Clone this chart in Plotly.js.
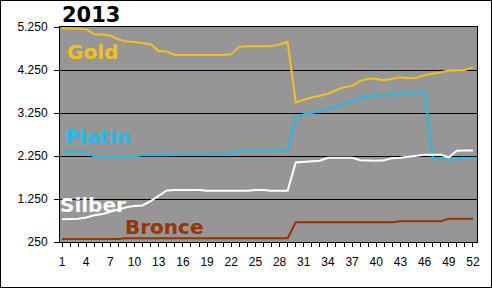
<!DOCTYPE html>
<html>
<head>
<meta charset="utf-8">
<script src="https://cdn.plot.ly/plotly-3.0.1.min.js"></script>
<style>
html,body{margin:0;padding:0;background:#fff;}
#wrap{width:492px;height:288px;box-sizing:border-box;border:1px solid #000;overflow:hidden;}
#chart{width:490px;height:286px;}
</style>
</head>
<body>
<div id="wrap"><div id="chart"></div></div>
<script>
var weeks = [1,2,3,4,5,6,7,8,9,10,11,12,13,14,15,16,17,18,19,20,21,22,23,24,25,26,
             27,28,29,30,31,32,33,34,35,36,37,38,39,40,41,42,43,44,45,46,47,48,49,50,51,52];

var gold = [5220,5220,5210,5200,5080,5070,5050,4960,4910,4900,4870,4850,4690,4680,4600,4600,
            4600,4600,4600,4600,4600,4620,4790,4800,4800,4800,4800,4850,4900,3500,3560,3610,
            3650,3700,3780,3850,3880,3990,4050,4040,4010,4040,4080,4060,4070,4130,4160,4200,
            4240,4250,4250,4310];

var platin = [2350,2350,2350,2350,2240,2240,2240,2240,2240,2240,2270,2270,2270,2270,2300,2300,
              2300,2300,2300,2300,2300,2310,2370,2370,2370,2370,2370,2370,2370,3150,3220,3250,
              3290,3340,3400,3450,3530,3600,3640,3660,3650,3700,3720,3700,3720,3740,2210,2190,
              2170,2180,2190,2210];

var silber = [780,780,790,820,870,900,950,1000,1060,1090,1100,1200,1330,1450,1460,1460,
              1460,1460,1440,1440,1440,1440,1440,1440,1460,1460,1440,1440,1440,2100,2110,2130,
              2140,2210,2210,2210,2210,2150,2140,2140,2150,2200,2210,2230,2250,2280,2280,2280,
              2220,2370,2380,2380];

var bronce = [320,320,320,320,320,320,320,320,340,340,340,340,340,340,340,340,
              340,340,340,340,340,340,340,340,340,340,340,340,340,710,710,710,
              710,710,710,710,710,710,710,710,710,710,730,730,730,730,730,730,
              790,790,790,790];

var xLabels = ["1","","","4","","","7","","","10","","","13","","","16","","","19","","","22","","","25","","",
               "28","","","31","","","34","","","37","","","40","","","43","","","46","","","49","","","52"];

var seriesNames = ["Gold","Platin","Silber","Bronce"];
var colors = ["#F5C01E","#1FBCEC","#FFFFFF","#993300"];
var values = [gold, platin, silber, bronce];

var traces = values.map(function(v,i){
  return {x: weeks, y: v, type: 'scatter', mode: 'lines', name: seriesNames[i],
          line: {color: colors[i], width: 2}, hoverinfo: 'skip'};
});

var labelPos = [[0.012,0.884],[0.006,0.488],[-0.004,0.172],[0.152,0.070]];
var annotations = seriesNames.map(function(n,i){
  return {text: n, xref: 'paper', yref: 'paper', x: labelPos[i][0], y: labelPos[i][1],
          xanchor: 'left', yanchor: 'middle', showarrow: false,
          font: {family: 'DejaVu Sans', size: 20, color: colors[i], weight: 'bold'}};
});
annotations.push({text: '2013', xref: 'paper', yref: 'paper', x: 0.0, y: 1.058,
  xanchor: 'left', yanchor: 'middle', showarrow: false,
  font: {family: 'DejaVu Sans', size: 21, color: '#000', weight: 'bold'}});

var layout = {
  width: 490, height: 286,
  margin: {l: 59, r: 14, t: 26, b: 45, pad: 0},
  paper_bgcolor: '#ffffff',
  plot_bgcolor: '#969696',
  separators: ',.',
  showlegend: false,
  font: {family: 'Liberation Sans, Arial, sans-serif', size: 12, color: '#000'},
  xaxis: {
    range: [0.75, 52.5], tickmode: 'array', tickvals: weeks, ticktext: xLabels,
    ticks: 'outside', ticklen: 4, tickcolor: '#000', tickwidth: 1,
    showgrid: false, zeroline: false, showline: true, linecolor: '#000', linewidth: 1, mirror: true,
    ticklabelstandoff: 5, tickangle: 0,
    tickfont: {family: 'Liberation Sans, Arial, sans-serif', size: 12, color: '#000'}
  },
  yaxis: {
    range: [250, 5250], tick0: 250, dtick: 1000, tickformat: ',d',
    ticks: 'outside', ticklen: 5, tickcolor: '#000', tickwidth: 1,
    showgrid: true, gridcolor: '#000', gridwidth: 1, zeroline: false,
    showline: true, linecolor: '#000', linewidth: 1, mirror: true,
    ticklabelstandoff: 4,
    tickfont: {family: 'Liberation Sans, Arial, sans-serif', size: 12, color: '#000'}
  },
  annotations: annotations
};

Plotly.newPlot('chart', traces, layout, {displayModeBar: false, staticPlot: true});
</script>
</body>
</html>
